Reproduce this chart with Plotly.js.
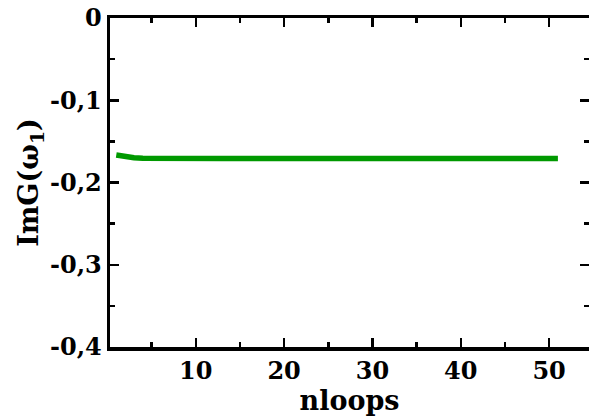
<!DOCTYPE html>
<html><head><meta charset="utf-8">
<script src="https://cdn.plot.ly/plotly-3.0.1.min.js"></script>
<style>html,body{margin:0;padding:0;overflow:hidden;background:#fff}</style>
</head><body>
<div id="chart" style="width:589px;height:419px"></div>
<script>
const nloops = [1,2,3,4,5,6,7,8,9,10,11,12,13,14,15,16,17,18,19,20,21,22,23,24,25,26,27,28,29,30,31,32,33,34,35,36,37,38,39,40,41,42,43,44,45,46,47,48,49,50,51];
const imG = [-0.1665,-0.1685,-0.1699,-0.1705,-0.1707,-0.1707,-0.1707,-0.1707,-0.1707,-0.1707,
-0.1707,-0.1707,-0.1707,-0.1707,-0.1707,-0.1707,-0.1707,-0.1707,-0.1707,-0.1707,
-0.1707,-0.1707,-0.1707,-0.1707,-0.1707,-0.1707,-0.1707,-0.1707,-0.1707,-0.1707,
-0.1707,-0.1707,-0.1707,-0.1707,-0.1707,-0.1707,-0.1707,-0.1707,-0.1707,-0.1707,
-0.1707,-0.1707,-0.1707,-0.1707,-0.1707,-0.1707,-0.1707,-0.1707,-0.1707,-0.1707,-0.1707];
const xTickVals = [10,20,30,40,50];
const xTickText = ['10','20','30','40','50'];
const yTickVals = [0,-0.1,-0.2,-0.3,-0.4];
const yTickText = ['0','-0,1','-0,2','-0,3','-0,4'];

const font = {family:'"DejaVu Serif", serif', color:'#000'};
Plotly.newPlot('chart', [{
  x: nloops, y: imG, type:'scatter', mode:'lines',
  line:{color:'#009900', width:5.5}
}], {
  width:589, height:419,
  margin:{l:110, r:0, t:18, b:72},
  paper_bgcolor:'#fff', plot_bgcolor:'#fff',
  showlegend:false,
  font: font,
  xaxis:{
    range:[0.29,54.52], showgrid:false, zeroline:false,
    showline:true, linecolor:'#000', linewidth:3.5, mirror:'allticks',
    ticks:'inside', ticklen:9, tickwidth:2.5, tickcolor:'#000',
    tickvals:xTickVals, ticktext:xTickText,
    tickfont:{family:font.family, size:24, weight:'bold'},
    minor:{tickvals:[5,15,25,35,45], ticks:'inside', ticklen:5, tickwidth:2.5, tickcolor:'#000'},
    title:{text:'<b>nloops</b>', font:{family:font.family, size:27}, standoff:2}
  },
  yaxis:{
    range:[-0.4,0], showgrid:false, zeroline:false,
    showline:true, linecolor:'#000', linewidth:3.5, mirror:'allticks',
    ticks:'inside', ticklen:9, tickwidth:2.5, tickcolor:'#000',
    tickvals:yTickVals, ticktext:yTickText,
    tickfont:{family:font.family, size:24, weight:'bold'},
    minor:{tickvals:[-0.05,-0.15,-0.25,-0.35], ticks:'inside', ticklen:5, tickwidth:2.5, tickcolor:'#000'},
    title:{text:'<b>ImG(ω<sub>1</sub>)</b>', font:{family:font.family, size:27}, standoff:4}
  }
}, {displayModeBar:false, staticPlot:true});
</script>
</body></html>
